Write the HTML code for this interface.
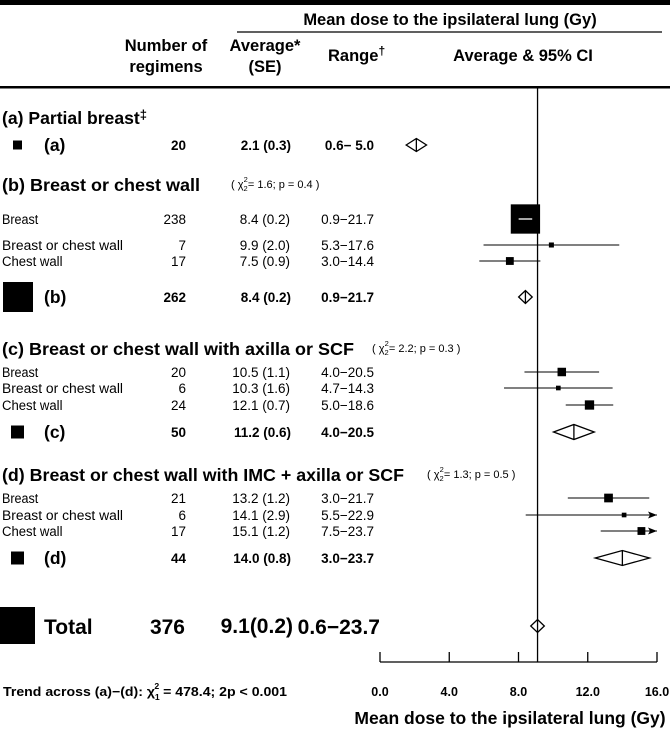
<!DOCTYPE html>
<html><head><meta charset="utf-8"><style>
html,body{margin:0;padding:0;background:#fff;}
svg{display:block;font-family:"Liberation Sans",Arial,sans-serif;}
</style></head><body>
<svg id="chart" width="670" height="730" viewBox="0 0 670 730" xmlns="http://www.w3.org/2000/svg">
<rect x="0" y="0" width="670" height="5" fill="#000"/>
<text x="450" y="25" text-anchor="middle" font-weight="bold" font-size="16.5">Mean dose to the ipsilateral lung (Gy)</text>
<line x1="237" y1="32" x2="662" y2="32" stroke="#000" stroke-width="1.3"/>
<text x="166" y="51" text-anchor="middle" font-weight="bold" font-size="16.5">Number of</text>
<text x="166" y="72" text-anchor="middle" font-weight="bold" font-size="16.5">regimens</text>
<text x="265" y="51" text-anchor="middle" font-weight="bold" font-size="16.5">Average*</text>
<text x="265" y="72" text-anchor="middle" font-weight="bold" font-size="16.5">(SE)</text>
<text x="328" y="61" font-weight="bold" font-size="16.5">Range<tspan dy="-6" font-size="12">†</tspan></text>
<text x="523" y="61" text-anchor="middle" font-weight="bold" font-size="16.5">Average &amp; 95% CI</text>
<rect x="0" y="86" width="670" height="2.5" fill="#000"/>
<g id="rows"></g>
<g id="marks"></g>
<g id="axis"></g>
<text x="3" y="696" font-weight="bold" font-size="13" textLength="284" lengthAdjust="spacingAndGlyphs">Trend across (a)−(d):  χ<tspan dy="4" font-size="8">1</tspan><tspan dy="-11" dx="-5" font-size="8">2</tspan><tspan dy="7"> = 478.4;  2p &lt; 0.001</tspan></text>
<text x="510" y="724" text-anchor="middle" font-weight="bold" font-size="17.5">Mean dose to the ipsilateral lung (Gy)</text>
</svg>
<script>
const NS="http://www.w3.org/2000/svg";
// data
const rowLabels=["Breast","Breast or chest wall","Chest wall","Breast","Breast or chest wall","Chest wall","Breast","Breast or chest wall","Chest wall"];
const rowN=[238,7,17,20,6,24,21,6,17];
const rowMean=[8.4,9.9,7.5,10.5,10.3,12.1,13.2,14.1,15.1];
const rowSE=[0.2,2.0,0.9,1.1,1.6,0.7,1.2,2.9,1.2];
const rowRange=["0.9−21.7","5.3−17.6","3.0−14.4","4.0−20.5","4.7−14.3","5.0−18.6","3.0−21.7","5.5−22.9","7.5−23.7"];
const sumLabels=["(a)","(b)","(c)","(d)"];
const sumN=[20,262,50,44];
const sumMean=[2.1,8.4,11.2,14.0];
const sumSE=[0.3,0.2,0.6,0.8];
const sumRange=["0.6− 5.0","0.9−21.7","4.0−20.5","3.0−23.7"];
const totalN=[376];
const totalMean=[9.1];
const totalSE=[0.2];
const totalRange=["0.6−23.7"];
const sectionTitles=["(a) Partial breast","(b) Breast or chest wall","(c) Breast or chest wall with axilla or SCF","(d) Breast or chest wall with IMC + axilla or SCF"];
const sectionChi=[null,["1.6","0.4"],["2.2","0.3"],["1.3","0.5"]];
const xTicks=[0,4,8,12,16];
const xTickLabels=["0.0","4.0","8.0","12.0","16.0"];
// layout
const X0=380,X1=657,XMIN=0,XMAX=16;
const xs=v=>X0+(v-XMIN)/(XMAX-XMIN)*(X1-X0);
const secY=[118,185,349,475];
const rowY=[219,245,261,372,388,405,498,515,531];
const sumY=[145,297,432,558];
const totY=626;
const secW=[145,198,352,402];
const chiX=[0,231,372,427];
const sumBox=[9,30,13,13];
const rowsG=document.getElementById('rows'),marks=document.getElementById('marks'),axisG=document.getElementById('axis');
function mk(tag,attrs,parent,txt){const e=document.createElementNS(NS,tag);for(const k in attrs)e.setAttribute(k,attrs[k]);if(txt!=null)e.textContent=txt;parent.appendChild(e);return e;}
// sections
sectionTitles.forEach((t,i)=>{
  const e=mk('text',{x:2,y:secY[i]+6,'font-weight':'bold','font-size':17.5,textLength:secW[i],lengthAdjust:'spacingAndGlyphs'},rowsG,t);
  
  
  if(i===0){mk('tspan',{dy:-5,'font-size':13},e,'‡');}
  if(sectionChi[i]){
    const c=mk('text',{x:chiX[i],y:secY[i]+3,'font-size':11},rowsG);
    
    
    c.innerHTML='( χ<tspan dy="3" font-size="7.5">2</tspan><tspan dy="-9" dx="-4" font-size="7.5">2</tspan><tspan dy="6">= '+sectionChi[i][0]+';  p = '+sectionChi[i][1]+' )</tspan>';
  }
});
// rows
rowLabels.forEach((l,i)=>{
  const y=rowY[i]+5;
  const a=mk('text',{x:2,y:y,'font-size':13.5,textLength:l.length*6.05,lengthAdjust:'spacingAndGlyphs'},rowsG,l);
  
  
  const b=mk('text',{x:186,y:y,'font-size':13.5,'text-anchor':'end'},rowsG,rowN[i]);
  
  
  const c=mk('text',{x:290,y:y,'font-size':13.5,'text-anchor':'end'},rowsG,rowMean[i].toFixed(1)+' ('+rowSE[i].toFixed(1)+')');
  
  
  const d=mk('text',{x:374,y:y,'font-size':13.5,'text-anchor':'end'},rowsG,rowRange[i]);
  
  
  const lo=rowMean[i]-1.96*rowSE[i],hi=rowMean[i]+1.96*rowSE[i];
  const hiC=Math.min(hi,XMAX);
  const ln=mk('line',{x1:xs(lo),y1:rowY[i],x2:xs(hiC),y2:rowY[i],stroke:'#000','stroke-width':1.1},marks);
  
  
  if(hi>XMAX){const ar=mk('path',{d:`M${xs(XMAX)} ${rowY[i]} l-9 -3.5 l2 3.5 l-2 3.5 z`,fill:'#000'},marks);
    
    }
  const s=1.9*Math.sqrt(rowN[i]);
  const bx=mk('rect',{x:xs(rowMean[i])-s/2,y:rowY[i]-s/2,width:s,height:s,fill:'#000'},marks);
  
  
  if(s>xs(hi)-xs(lo)){const w=mk('line',{x1:xs(lo),y1:rowY[i],x2:xs(hi),y2:rowY[i],stroke:'#fff','stroke-width':1.3},marks);
    
    }
});
// subtotals
sumLabels.forEach((l,i)=>{
  const y=sumY[i],s=sumBox[i];
  const sq=mk('rect',{x:i===1?3:(i===0?13:11),y:y-s/2,width:s,height:s,fill:'#000'},rowsG);
  
  
  const a=mk('text',{x:44,y:y+6,'font-weight':'bold','font-size':17.5},rowsG,l);
  
  
  const b=mk('text',{x:186,y:y+5,'font-weight':'bold','font-size':13.5,'text-anchor':'end'},rowsG,sumN[i]);
  
  
  const c=mk('text',{x:291,y:y+5,'font-weight':'bold','font-size':13.5,'text-anchor':'end'},rowsG,sumMean[i].toFixed(1)+' ('+sumSE[i].toFixed(1)+')');
  
  
  const d=mk('text',{x:374,y:y+5,'font-weight':'bold','font-size':13.5,'text-anchor':'end'},rowsG,sumRange[i]);
  
  
  const m=xs(sumMean[i]),lo=xs(sumMean[i]-1.96*sumSE[i]),hi=xs(sumMean[i]+1.96*sumSE[i]);
  const h=(hi-lo)<30?6.5:7.5;
  const dm=mk('path',{d:`M${lo} ${y} L${m} ${y-h} L${hi} ${y} L${m} ${y+h} Z M${m} ${y-h} L${m} ${y+h}`,fill:'#fff',stroke:'#000','stroke-width':1.3},marks);
  
  
});
// total
{
  const y=totY;
  const sq=mk('rect',{x:0,y:y-19,width:35,height:37,fill:'#000'},rowsG);
  
  
  const a=mk('text',{x:44,y:y+8,'font-weight':'bold','font-size':21},rowsG,'Total');
  
  
  const b=mk('text',{x:185,y:y+8,'font-weight':'bold','font-size':21,'text-anchor':'end'},rowsG,totalN[0]);
  
  
  const c=mk('text',{x:293,y:y+7,'font-weight':'bold','font-size':21,'text-anchor':'end'},rowsG,totalMean[0].toFixed(1)+'('+totalSE[0].toFixed(1)+')');
  
  
  const d=mk('text',{x:380,y:y+8,'font-weight':'bold','font-size':21,'text-anchor':'end'},rowsG,totalRange[0]);
  
  
  const m=xs(totalMean[0]),lo=xs(totalMean[0]-1.96*totalSE[0]),hi=xs(totalMean[0]+1.96*totalSE[0]);
  const dm=mk('path',{d:`M${lo} ${y} L${m} ${y-6.5} L${hi} ${y} L${m} ${y+6.5} Z`,fill:'#fff',stroke:'#000','stroke-width':1.3},marks);
  
  
  const ref=mk('line',{x1:xs(totalMean[0]),y1:88,x2:xs(totalMean[0]),y2:662,stroke:'#000','stroke-width':1.3},marks);
  
  
}
// axis
const base=mk('line',{x1:xs(XMIN),y1:662,x2:xs(XMAX),y2:662,stroke:'#000','stroke-width':1.3},axisG);


xTicks.forEach((t,i)=>{
  const tk=mk('line',{x1:xs(t),y1:652,x2:xs(t),y2:662,stroke:'#000','stroke-width':1.3},axisG);
  
  
  const lb=mk('text',{x:xs(t),y:696,'text-anchor':'middle','font-weight':'bold','font-size':12.5},axisG,xTickLabels[i]);
  
  
});
</script>
</body></html>
